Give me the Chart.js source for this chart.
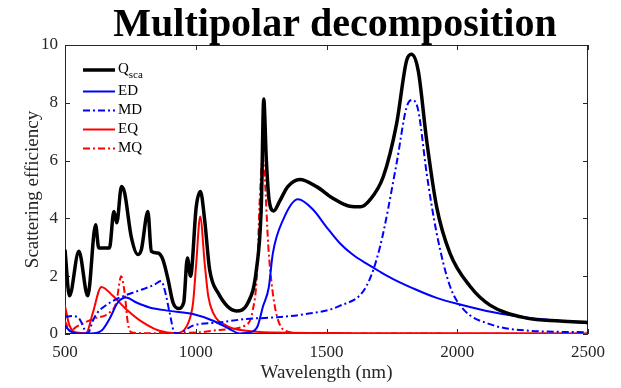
<!DOCTYPE html>
<html>
<head>
<meta charset="utf-8">
<script src="https://cdn.jsdelivr.net/npm/chart.js@4"></script>
<style>
  html, body { margin: 0; padding: 0; background: #fff; }
  #wrap { width: 621px; height: 388px; }
</style>
</head>
<body>
<div id="wrap"><canvas id="chart" width="621" height="388"></canvas></div>
<script>
// wavelength (nm) and value pairs, one pair of arrays per curve
const qscaWl = [500, 517, 553, 587, 617, 629, 670, 687, 698, 716, 728, 753, 779, 792, 817, 830, 855, 874, 894, 913, 934, 954, 968, 980, 1002, 1018, 1034, 1053, 1085, 1155, 1200, 1232, 1251, 1260, 1270, 1281, 1298, 1321, 1352, 1398, 1462, 1524, 1589, 1630, 1666, 1717, 1768, 1806, 1825, 1851, 1883, 1921, 1972, 2048, 2125, 2265, 2393, 2500];
const qscaVal = [2.92, 1.32, 2.86, 1.32, 3.78, 2.98, 2.98, 4.24, 3.85, 5.1, 4.88, 3.38, 2.75, 2.92, 4.24, 2.86, 2.8, 2.58, 1.89, 1.09, 0.88, 1.09, 2.63, 2.0, 4.41, 4.93, 3.95, 2.23, 1.43, 0.8, 1.09, 2.23, 4.52, 8.13, 6.0, 4.6, 4.26, 4.6, 5.1, 5.35, 5.1, 4.7, 4.42, 4.4, 4.64, 5.44, 7.27, 9.45, 9.68, 9.1, 6.7, 4.41, 2.8, 1.66, 1.0, 0.55, 0.45, 0.4];

const edWl = [500, 520, 545, 600, 640, 670, 702, 734, 773, 823, 900, 989, 1066, 1130, 1168, 1207, 1236, 1257, 1279, 1295, 1334, 1391, 1449, 1500, 1551, 1600, 1650, 1700, 1755, 1831, 1921, 2011, 2138, 2265, 2500];
const edVal = [0.28, 0.1, 0.02, 0.02, 0.12, 0.52, 1.09, 1.26, 1.09, 0.92, 0.8, 0.69, 0.46, 0.17, 0.02, 0.06, 0.26, 0.95, 1.6, 2.8, 3.95, 4.66, 4.3, 3.7, 3.14, 2.75, 2.45, 2.18, 1.9, 1.58, 1.25, 1.02, 0.75, 0.57, 0.37];

const mdWl = [500, 532, 557, 575, 587, 606, 625, 650, 684, 734, 798, 840, 868, 882, 900, 919, 940, 962, 989, 1090, 1193, 1293, 1420, 1550, 1653, 1705, 1768, 1806, 1829, 1851, 1883, 1921, 1972, 2023, 2125, 2265, 2500];
const mdVal = [0.6, 0.62, 0.5, 0.15, 0.02, 0.45, 0.75, 0.95, 1.15, 1.35, 1.55, 1.7, 1.83, 1.5, 0.74, 0.05, 0.02, 0.15, 0.29, 0.4, 0.52, 0.57, 0.69, 0.97, 1.66, 3.03, 5.9, 7.84, 8.1, 7.73, 5.56, 3.5, 1.66, 0.86, 0.34, 0.12, 0.06];

const eqWl = [500, 517, 545, 581, 606, 639, 683, 734, 798, 861, 924, 977, 990, 1002, 1017, 1034, 1048, 1066, 1117, 1193, 1300, 1600, 2500];
const eqVal = [0.97, 0.3, 0.05, 0.03, 0.72, 1.63, 1.32, 0.86, 0.4, 0.11, 0.03, 0.52, 1.1, 2.46, 4.07, 2.46, 1.3, 0.74, 0.29, 0.11, 0.05, 0.03, 0.02];

const mqWl = [500, 520, 543, 606, 670, 696, 715, 728, 740, 753, 800, 1000, 1100, 1190, 1216, 1235, 1244, 1256, 1264, 1277, 1292, 1311, 1342, 1400, 2500];
const mqVal = [0.45, 0.1, 0.25, 0.52, 0.74, 1.09, 2.0, 1.43, 0.4, 0.06, 0.03, 0.05, 0.15, 0.3, 0.74, 2.2, 4.5, 6.1, 5.4, 3.1, 1.6, 0.6, 0.11, 0.03, 0.01];

const xTicks = [500, 1000, 1500, 2000, 2500];
const yTicks = [0, 2, 4, 6, 8, 10];

const pts = (wl, v) => wl.map((w, i) => ({ x: w, y: v[i] }));
const serif = '"Liberation Serif", "Times New Roman", serif';
const ink = '#262626';
const dashDot = [7, 3, 2, 3];

// box, inward ticks, title and legend are drawn here, MATLAB style
const decor = {
  id: 'decor',
  beforeDatasetsDraw(chart) {
    const { ctx, chartArea: a, scales: { x, y } } = chart;
    ctx.save();
    ctx.strokeStyle = ink;
    ctx.lineWidth = 1;
    ctx.strokeRect(a.left + 0.5, a.top + 0.5, a.right - a.left - 1, a.bottom - a.top - 1);
    ctx.beginPath();
    xTicks.forEach(t => {
      const px = Math.round(x.getPixelForValue(t)) + 0.5;
      ctx.moveTo(px, a.bottom); ctx.lineTo(px, a.bottom - 5);
      ctx.moveTo(px, a.top); ctx.lineTo(px, a.top + 5);
    });
    yTicks.forEach(t => {
      const py = Math.round(y.getPixelForValue(t)) + 0.5;
      ctx.moveTo(a.left, py); ctx.lineTo(a.left + 5, py);
      ctx.moveTo(a.right, py); ctx.lineTo(a.right - 5, py);
    });
    ctx.stroke();
    ctx.restore();
  },
  afterDatasetsDraw(chart) {
    const { ctx } = chart;
    ctx.save();
    ctx.fillStyle = '#000';
    ctx.font = 'bold 40px ' + serif;
    ctx.textAlign = 'center';
    ctx.textBaseline = 'alphabetic';
    ctx.fillText('Multipolar decomposition', 335, 36);

    const rows = [70, 91.5, 110.5, 129.5, 148.5];
    chart.data.datasets.forEach((ds, i) => {
      const yy = rows[i];
      ctx.beginPath();
      ctx.strokeStyle = ds.borderColor;
      ctx.lineWidth = ds.borderWidth;
      ctx.setLineDash(ds.borderDash || []);
      ctx.moveTo(83, yy); ctx.lineTo(115, yy);
      ctx.stroke();
      ctx.setLineDash([]);
      ctx.fillStyle = '#000';
      ctx.textAlign = 'left';
      ctx.textBaseline = 'middle';
      ctx.font = '15px ' + serif;
      if (i === 0) {
        ctx.fillText('Q', 118, yy - 1);
        const w = ctx.measureText('Q').width;
        ctx.font = '11px ' + serif;
        ctx.fillText('sca', 118 + w, yy + 5);
      } else {
        ctx.fillText(ds.label, 118, yy);
      }
    });
    ctx.restore();
  }
};

new Chart(document.getElementById('chart'), {
  type: 'line',
  data: {
    datasets: [
      { label: 'Qsca', data: pts(qscaWl, qscaVal), borderColor: '#000000', borderWidth: 3.5 },
      { label: 'ED', data: pts(edWl, edVal), borderColor: '#0000ff', borderWidth: 2 },
      { label: 'MD', data: pts(mdWl, mdVal), borderColor: '#0000ff', borderWidth: 2, borderDash: dashDot },
      { label: 'EQ', data: pts(eqWl, eqVal), borderColor: '#ff0000', borderWidth: 2 },
      { label: 'MQ', data: pts(mqWl, mqVal), borderColor: '#ff0000', borderWidth: 2, borderDash: dashDot }
    ]
  },
  options: {
    responsive: false,
    animation: false,
    layout: { padding: { top: 45, right: 33, left: 0, bottom: 0 } },
    elements: {
      point: { radius: 0 },
      line: { cubicInterpolationMode: 'monotone', fill: false }
    },
    plugins: {
      legend: { display: false },
      title: { display: false },
      tooltip: { enabled: false }
    },
    scales: {
      x: {
        type: 'linear',
        min: 500, max: 2500,
        afterFit: s => { s.height = 54; },
        afterBuildTicks: s => { s.ticks = xTicks.map(v => ({ value: v })); },
        grid: { drawOnChartArea: false, drawTicks: false },
        border: { display: false },
        ticks: { color: ink, padding: 8, maxRotation: 0, callback: v => String(v), font: { family: serif, size: 17 } },
        title: { display: true, text: 'Wavelength (nm)', color: ink, padding: { top: 0, bottom: 4 }, font: { family: serif, size: 19 } }
      },
      y: {
        min: 0, max: 10,
        afterFit: s => { s.width = 65; },
        afterBuildTicks: s => { s.ticks = yTicks.map(v => ({ value: v })); },
        grid: { drawOnChartArea: false, drawTicks: false },
        border: { display: false },
        ticks: { color: ink, padding: 7, callback: v => String(v), font: { family: serif, size: 17 } },
        title: { display: true, text: 'Scattering efficiency', color: ink, padding: { top: 22, bottom: 0 }, font: { family: serif, size: 19 } }
      }
    }
  },
  plugins: [decor]
});
</script>
</body>
</html>
